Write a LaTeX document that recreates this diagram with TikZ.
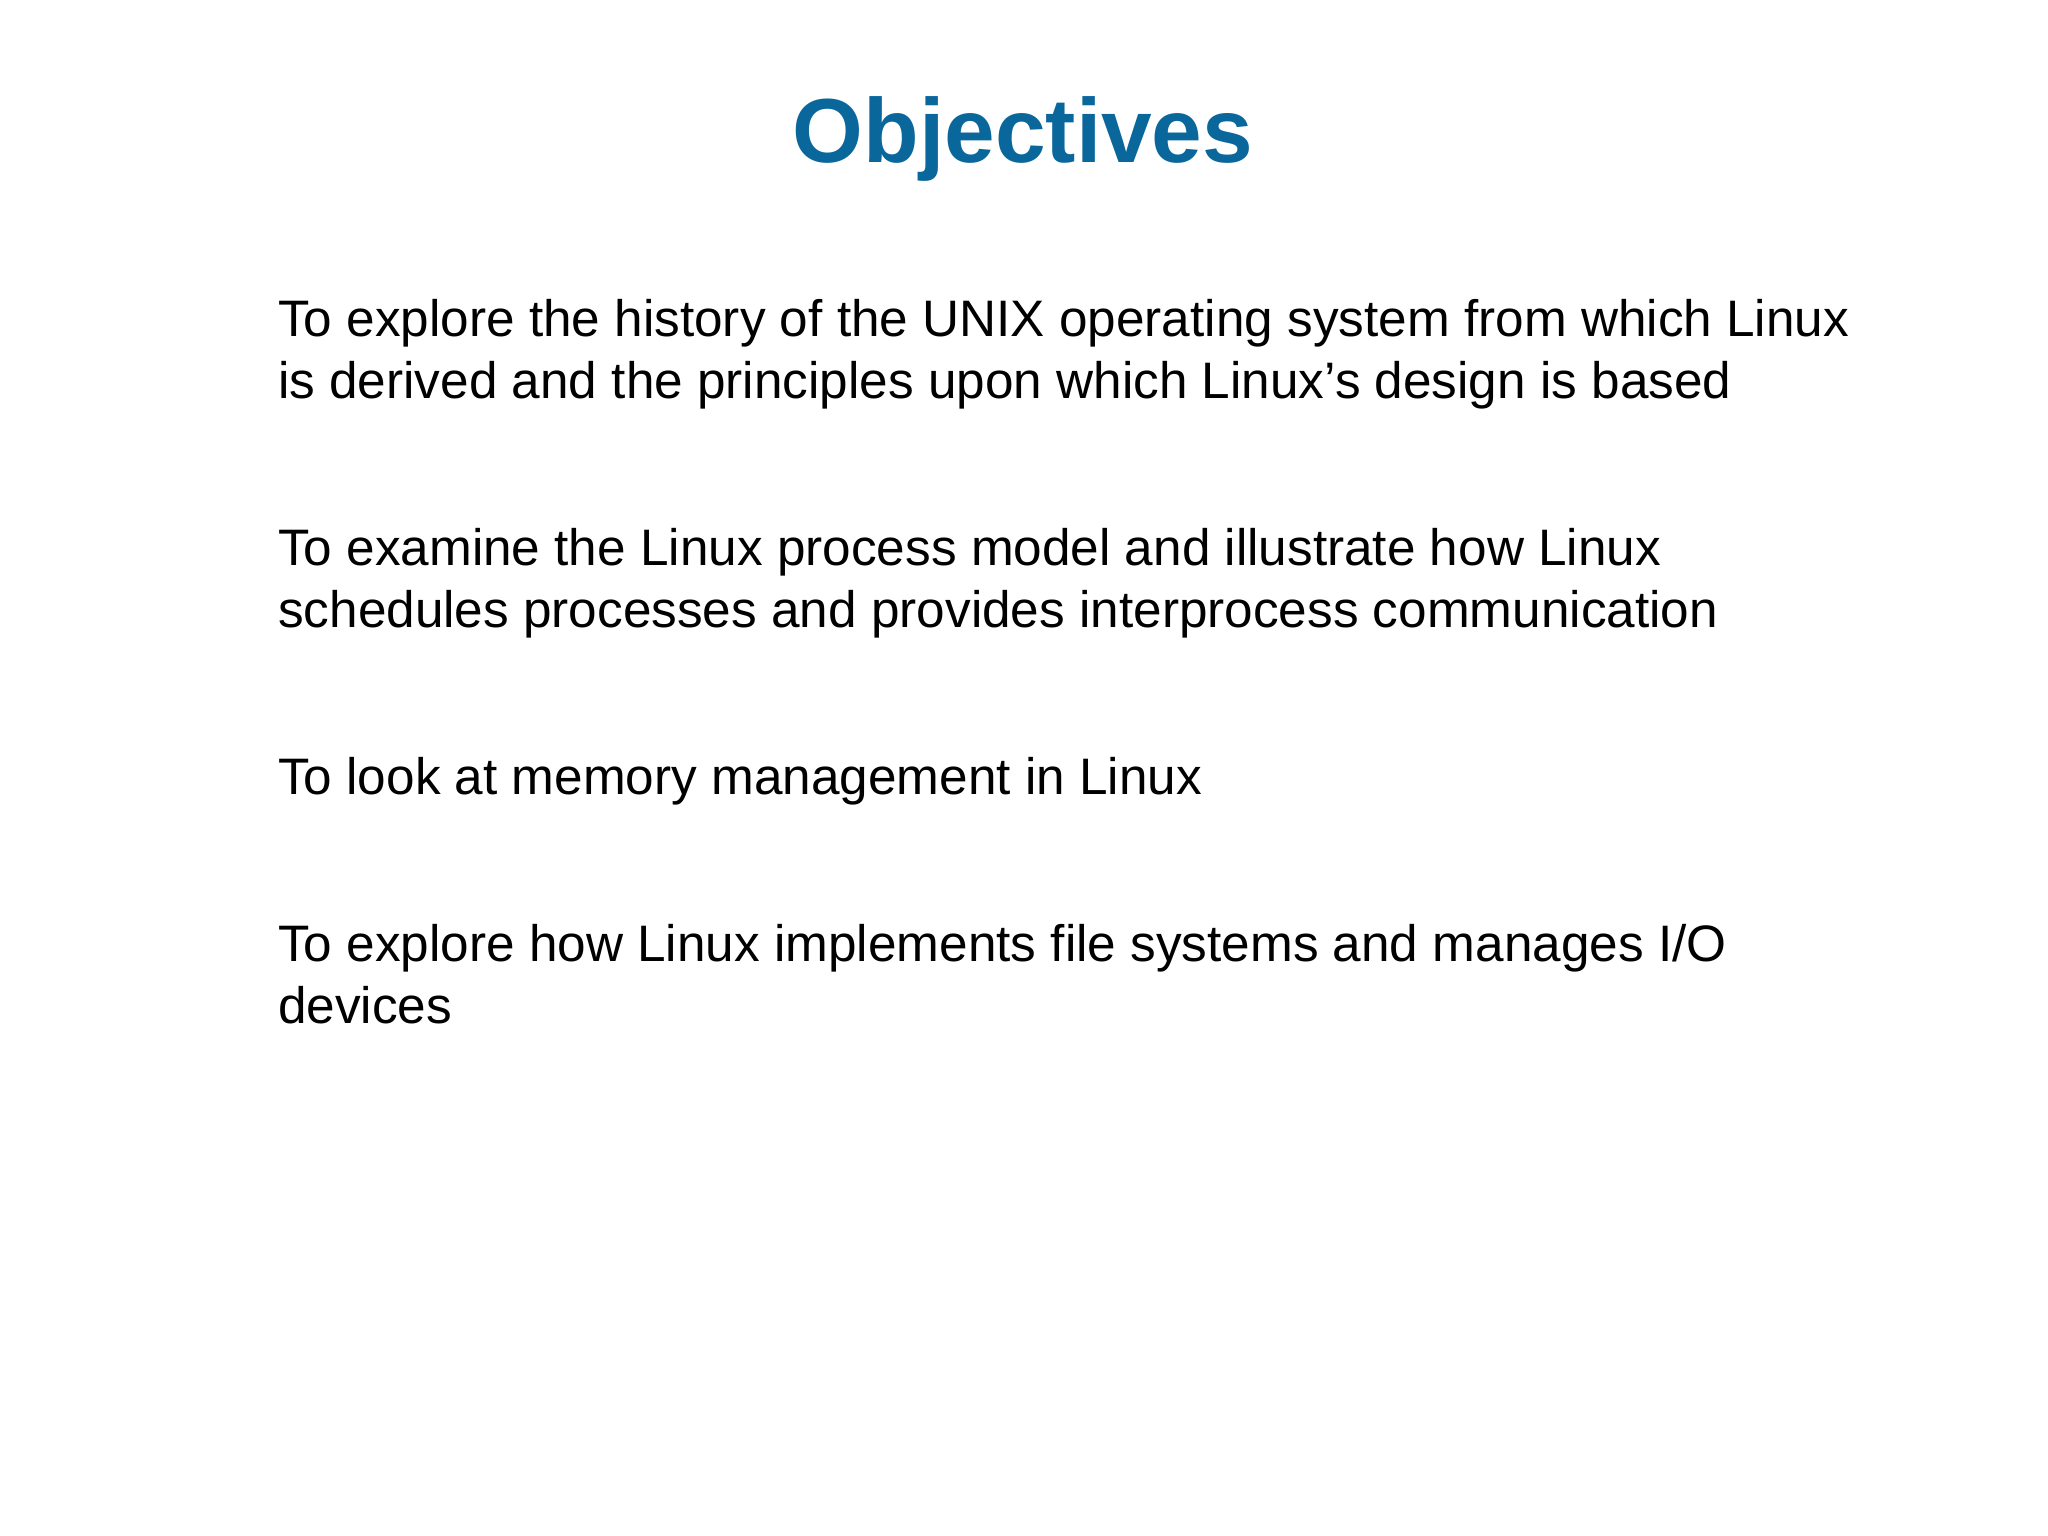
\documentclass[tikz,border=0pt]{standalone}
\usepackage{fontspec}
\setmainfont{Liberation Sans}
\definecolor{titleblue}{HTML}{0A679C}
\begin{document}
\begin{tikzpicture}[x=1pt,y=-1pt,
  bodytext/.style={anchor=base west,inner sep=0pt,align=left,font=\fontsize{51.3}{61.5}\selectfont},
  titletext/.style={anchor=base,inner sep=0pt,font=\fontsize{91}{100}\selectfont\bfseries,text=titleblue}]
\useasboundingbox (0,0) rectangle (2048,1536);
\node[titletext] (title) at (1023,163) {Objectives};
\node[bodytext] (p1) at (278,398) {To explore the history of the UNIX operating system from which Linux\\is derived and the principles upon which Linux’s design is based};
\node[bodytext] (p2) at (278,627) {To examine the Linux process model and illustrate how Linux\\schedules processes and provides interprocess communication};
\node[bodytext] (p3) at (278,794) {To look at memory management in Linux};
\node[bodytext] (p4) at (278,1023) {To explore how Linux implements file systems and manages I/O\\devices};
\end{tikzpicture}
\end{document}
